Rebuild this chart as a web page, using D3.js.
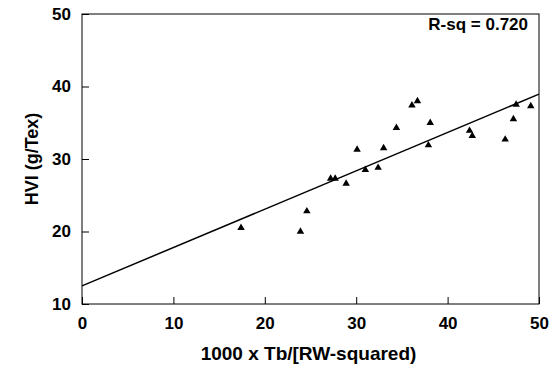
<!DOCTYPE html>
<html>
<head>
<meta charset="utf-8">
<script src="https://cdn.jsdelivr.net/npm/d3@7"></script>
<style>
  body { margin: 0; background: #fff; }
  text { font-family: "Liberation Sans", Arial, sans-serif; font-weight: bold; fill: #000; }
</style>
</head>
<body>
<div id="chart"></div>
<script>
// data
const xValues = [17.4, 23.9, 24.6, 27.2, 27.7, 28.9, 30.1, 31.0, 32.4, 33.0, 34.4,
                 36.1, 36.7, 37.9, 38.1, 42.4, 42.7, 46.3, 47.2, 47.5, 49.1];
const yValues = [20.5, 20.0, 22.8, 27.3, 27.3, 26.6, 31.3, 28.5, 28.8, 31.5, 34.3,
                 37.4, 38.0, 31.9, 35.0, 33.9, 33.2, 32.7, 35.5, 37.5, 37.3];
const xTicks = [0, 10, 20, 30, 40, 50];
const yTicks = [10, 20, 30, 40, 50];
const fitIntercept = 12.5;
const fitSlope = 0.529;
const rsqLabel = "R-sq = 0.720";

const width = 555, height = 372;
const margin = {top: 14, right: 16, bottom: 68, left: 82};
const w = width - margin.left - margin.right;
const h = height - margin.top - margin.bottom;

const svg = d3.select("#chart")
  .append("svg")
  .attr("width", width)
  .attr("height", height)
  .append("g")
  .attr("transform", "translate(" + margin.left + "," + margin.top + ")");

const x = d3.scaleLinear().domain([0, 50]).range([0, w]);
const y = d3.scaleLinear().domain([10, 50]).range([h, 0]);

// frame
svg.append("rect")
  .attr("width", w).attr("height", h)
  .attr("fill", "none").attr("stroke", "#000").attr("stroke-width", 1);

// X axis, ticks inward
const xAxis = svg.append("g")
  .attr("transform", "translate(0," + h + ")")
  .call(d3.axisBottom(x).tickValues(xTicks).tickSizeInner(-7).tickSizeOuter(0).tickPadding(13));
xAxis.select(".domain").remove();
xAxis.selectAll("text").style("font-size", "17px");

// Y axis, ticks inward
const yAxis = svg.append("g")
  .call(d3.axisLeft(y).tickValues(yTicks).tickSizeInner(-7).tickSizeOuter(0).tickPadding(11));
yAxis.select(".domain").remove();
yAxis.selectAll("text").style("font-size", "17px");

// fitted line
svg.append("line")
  .attr("x1", x(0)).attr("y1", y(fitIntercept))
  .attr("x2", x(50)).attr("y2", y(fitIntercept + fitSlope * 50))
  .attr("stroke", "#000").attr("stroke-width", 1.5);

// points
const pts = xValues.map((d, i) => ({x: d, y: yValues[i]}));
svg.append("g").selectAll("path")
  .data(pts)
  .enter()
  .append("path")
  .attr("d", d3.symbol().type(d3.symbolTriangle).size(24))
  .attr("transform", d => "translate(" + x(d.x) + "," + y(d.y) + ")")
  .attr("fill", "#000");

// R-sq label
svg.append("text")
  .attr("x", w - 11).attr("y", 15.5)
  .attr("text-anchor", "end")
  .style("font-size", "17px")
  .text(rsqLabel);

// axis titles
svg.append("text")
  .attr("x", w / 2 - 2).attr("y", h + 56)
  .attr("text-anchor", "middle")
  .style("font-size", "19px")
  .text("1000 x Tb/[RW-squared)");

svg.append("text")
  .attr("transform", "translate(" + (-44) + "," + (h / 2) + ") rotate(-90)")
  .attr("text-anchor", "middle")
  .style("font-size", "18px")
  .text("HVI (g/Tex)");
</script>
</body>
</html>
